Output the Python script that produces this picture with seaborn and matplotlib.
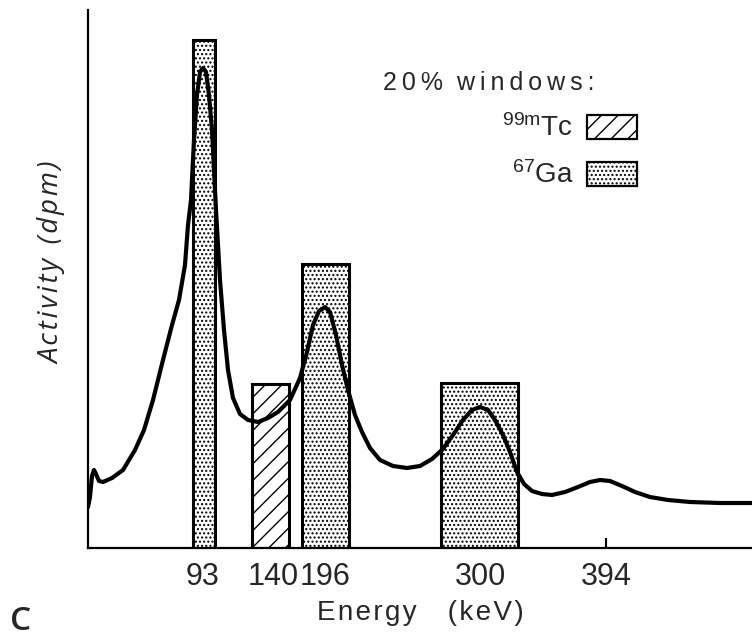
import numpy as np
import pandas as pd
import matplotlib
matplotlib.use("Agg")
import matplotlib.pyplot as plt
from matplotlib.patches import Patch
import seaborn as sns

# spectrum trace (x = analyser channel, y = counts, arbitrary units)
channel = [0, 2, 4, 6, 8, 11, 15, 24, 35, 47, 56, 65, 75, 84, 91, 97, 100, 103, 106, 109,
           112, 115, 118, 121, 124, 128, 132, 136, 140, 145, 152, 160, 170, 180, 190, 202,
           212, 219, 225, 231, 237, 242, 248, 254, 260, 267, 274, 282, 292, 305, 319, 332,
           344, 355, 365, 375, 384, 392, 400, 407, 415, 422, 429, 436, 444, 454, 464, 477,
           490, 502, 512, 522, 534, 547, 562, 580, 602, 632, 664]
counts = [41, 51, 72, 78, 74, 67, 66, 70, 78, 98, 118, 148, 188, 223, 248, 283, 323, 348,
          408, 453, 476, 480, 476, 453, 418, 338, 268, 218, 178, 150, 134, 128, 126, 130,
          136, 148, 170, 196, 223, 237, 241, 236, 213, 183, 158, 133, 116, 100, 88, 82, 80,
          82, 89, 99, 113, 128, 138, 141, 138, 128, 113, 96, 76, 64, 57, 54, 53, 56, 61, 66,
          68, 67, 62, 56, 51, 48, 46, 45, 45]

# 20% energy windows
window_iso = ["Ga", "Tc", "Ga", "Ga"]
window_lo = [105, 164, 214, 353]
window_hi = [127, 201, 261, 430]
window_top = [508, 164, 284, 165]

# photopeak ticks
tick_pos = [115, 185, 237, 392, 518]
tick_labels = ["93", "140", "196", "300", "394"]

sns.set_theme(style="white")
plt.rcParams["font.family"] = ["Liberation Sans", "DejaVu Sans"]
plt.rcParams["mathtext.fontset"] = "custom"
plt.rcParams["mathtext.rm"] = "Liberation Sans"
plt.rcParams["hatch.linewidth"] = 1.0

hatches = {"Tc": "//", "Ga": "...."}


def spaced(s, sp="\u200a"):
    # loose letter tracking like the original typesetting
    return sp.join(s)


fig = plt.figure(figsize=(7.52, 6.4), dpi=100)
ax = fig.add_axes([88 / 752, 1 - 548 / 640, 1 - 88 / 752, 538 / 640])

for iso, lo, hi, top in zip(window_iso, window_lo, window_hi, window_top):
    ax.bar(lo, top, width=hi - lo, align="edge", facecolor="white",
           edgecolor="black", linewidth=2.2, hatch=hatches[iso], zorder=2)

df = pd.DataFrame({"channel": channel, "counts": counts})
sns.lineplot(data=df, x="channel", y="counts", ax=ax, color="black",
             linewidth=3, zorder=3)

ax.set_xlim(0, 664)
ax.set_ylim(0, 538)
ax.set_yticks([])
ax.set_xticks(tick_pos, labels=tick_labels)
ax.tick_params(axis="x", direction="in", length=7, width=1.5, pad=10,
               labelsize=22, bottom=True, color="black")
for s in ["top", "right"]:
    ax.spines[s].set_visible(False)
for s in ["left", "bottom"]:
    ax.spines[s].set_color("black")
    ax.spines[s].set_linewidth(1.6)

ax.set_xlabel(spaced("Energy") + "    " + spaced("(keV)"), fontsize=20, labelpad=6)
ax.set_ylabel(spaced("Activity") + "  " + spaced("(dpm)"), fontsize=20,
              fontstyle="italic", family=["Open Sans", "DejaVu Sans"])
ax.yaxis.set_label_coords(-0.033, 0.53)

# legend
ax.text(0.444, 0.865, spaced("20%", "\u2009") + "  " + spaced("windows:", "\u2009"),
        transform=ax.transAxes, fontsize=18, ha="left", va="center")
handles = [Patch(facecolor="white", edgecolor="black", hatch=hatches["Tc"], linewidth=1.6),
           Patch(facecolor="white", edgecolor="black", hatch=hatches["Ga"], linewidth=1.6)]
labels = [r"$\mathregular{^{99m}}$Tc", r"$\mathregular{^{67}}$Ga"]
ax.legend(handles, labels, loc="upper right", bbox_to_anchor=(0.827, 0.806),
          markerfirst=False, frameon=False, fontsize=20, borderpad=0,
          borderaxespad=0, handlelength=1.8, handleheight=0.95,
          handletextpad=0.5, labelspacing=0.7)

fig.text(10 / 752, 0.003, "C", fontsize=24, fontweight="semibold",
         family=["Open Sans", "DejaVu Sans"], ha="left", va="bottom")

fig.savefig("out.png", dpi=100, facecolor="white")
